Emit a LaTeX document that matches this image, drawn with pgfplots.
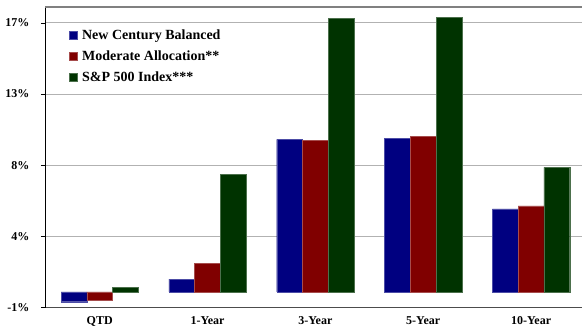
\documentclass[border=0pt]{standalone}
\usepackage{fontspec}
\setmainfont{Liberation Serif}
\usepackage{pgfplots}
\pgfplotsset{compat=1.18}
\definecolor{cblue}{HTML}{000080}
\definecolor{cred}{HTML}{800000}
\definecolor{cgreen}{HTML}{003300}
\begin{document}
\begin{tikzpicture}
\begin{axis}[
  scale only axis,
  width=540bp, height=300.7bp,
  xmin=-0.507, xmax=4.5,
  ymin=-1, ymax=18,
  axis y line*=left,
  axis x line*=bottom,
  x axis line style={-, draw=black!70, line width=1.2bp},
  y axis line style={-, draw=black, line width=0.8bp},
  ybar=0pt,
  bar width=0.239,
  xtick={0,1,2,3,4},
  xticklabels={QTD,1-Year,3-Year,5-Year,10-Year},
  major x tick style={draw=none},
  x tick label style={font=\bfseries\fontsize{12bp}{14bp}\selectfont, yshift=-1bp},
  ytick={-1,3.5,8,12.5,17},
  yticklabels={-1\%,4\%,8\%,13\%,17\%},
  y tick label style={font=\bfseries\fontsize{12bp}{14bp}\selectfont, xshift=-8bp},
  tick align=outside,
  major tick length=4bp,
  major y tick style={black, line width=0.6bp},
  ymajorgrids,
  major grid style={draw=black!30, line width=0.8bp},
  legend style={at={(rel axis cs:0.044,0.933)}, anchor=north west, draw=none, fill=none,
    font=\bfseries\fontsize{14bp}{15bp}\selectfont, inner sep=0pt,
    row sep=6bp, legend cell align=left},
  legend image code/.code={\fill[#1] (0bp,-4bp) rectangle (8bp,4bp); \path[draw=none,fill=none] (0bp,0bp) -- (11bp,0bp);},
  clip=false,
]
\addplot[fill=cblue, draw=cblue!70!white, line width=0.3bp] coordinates {(0,-0.62) (1,0.80) (2,9.63) (3,9.69) (4,5.25)};
\addplot[fill=cred, draw=cred!70!white, line width=0.3bp] coordinates {(0,-0.51) (1,1.81) (2,9.58) (3,9.84) (4,5.44)};
\addplot[fill=cgreen, draw=cgreen!70!white, line width=0.3bp] coordinates {(0,0.29) (1,7.41) (2,17.30) (3,17.33) (4,7.87)};
\legend{New Century Balanced, Moderate Allocation**, S\&P 500 Index***}
\draw[black!50, line width=1.5bp] (rel axis cs:0,1) -- (rel axis cs:1,1);
\end{axis}
\pgfresetboundingbox
\path ([xshift=-45bp,yshift=-18.3bp]current axis.south west) rectangle ++(582bp,326bp);
\end{tikzpicture}
\end{document}
